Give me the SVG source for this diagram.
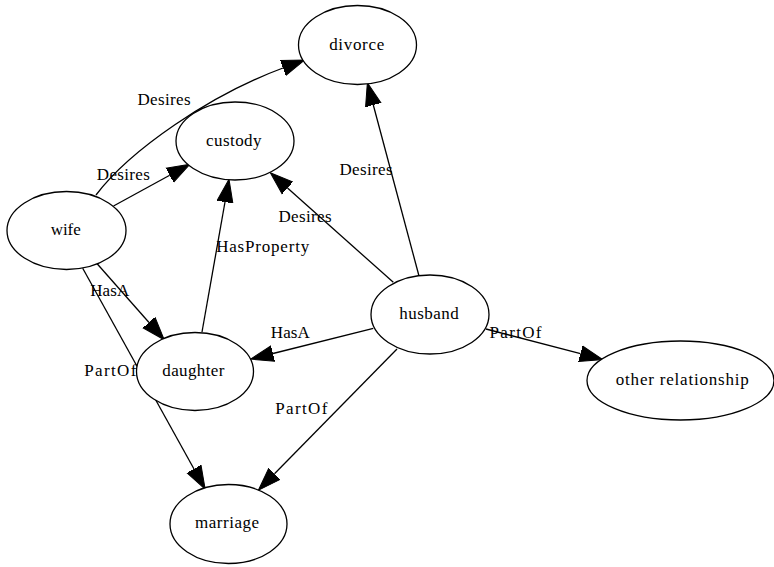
<svg xmlns="http://www.w3.org/2000/svg" width="774" height="567" viewBox="0 0 774 567">
<style>
.n ellipse{fill:#fff;stroke:#000;stroke-width:1.3}
text{font-family:"Liberation Serif","Times New Roman",serif;font-size:17px;fill:#000;text-anchor:middle}
.e path,.e line{fill:none;stroke:#000;stroke-width:1.3;marker-end:url(#ah)}
</style>
<defs>
<marker id="ah" viewBox="0 0 24 18" markerWidth="24" markerHeight="18" refX="0" refY="9" orient="auto" markerUnits="userSpaceOnUse">
<path d="M0,1 L23,9 L0,17 z" fill="#000" stroke="#000" stroke-width="1"/>
</marker>
</defs>
<rect width="774" height="567" fill="#fff"/>
<g id="edges" class="e">
<path d="M96,195 C130,150 210,95 283,68"/>
<line x1="113.5" y1="206" x2="169.7" y2="175.3"/>
<line x1="202" y1="332" x2="225" y2="202"/>
<line x1="393.3" y1="282.3" x2="287.5" y2="188"/>
<line x1="419" y1="276" x2="373.3" y2="105"/>
<line x1="96.7" y1="263.3" x2="149" y2="322.5"/>
<line x1="82.7" y1="268.3" x2="194" y2="469"/>
<line x1="373.3" y1="328.3" x2="273" y2="353.5"/>
<line x1="397" y1="349" x2="274.5" y2="473.8"/>
<line x1="486" y1="329" x2="580.5" y2="353.7"/>
<g id="edge-labels">
<text x="164" y="105" textLength="53">Desires</text>
<text x="123.3" y="180" textLength="53">Desires</text>
<text x="262.7" y="251.5" textLength="93">HasProperty</text>
<text x="305" y="221.5" textLength="53">Desires</text>
<text x="366" y="175" textLength="53">Desires</text>
<text x="109.7" y="295.5" textLength="39">HasA</text>
<text x="110.3" y="376" textLength="52">PartOf</text>
<text x="290.3" y="337.5" textLength="39">HasA</text>
<text x="301.3" y="414" textLength="52">PartOf</text>
<text x="515.5" y="338.3" textLength="52">PartOf</text>
</g>
</g>
<g id="divorce" class="n"><ellipse cx="357.5" cy="45" rx="59" ry="39.5"/><text x="356.7" y="50" textLength="55">divorce</text></g>
<g id="custody" class="n"><ellipse cx="235" cy="141" rx="59" ry="39"/><text x="233.8" y="145.7" textLength="55.5">custody</text></g>
<g id="wife" class="n"><ellipse cx="66.5" cy="230.5" rx="59.5" ry="39"/><text x="65.7" y="235" textLength="30">wife</text></g>
<g id="daughter" class="n"><ellipse cx="195" cy="371.5" rx="58.5" ry="39"/><text x="193.3" y="376" textLength="62">daughter</text></g>
<g id="marriage" class="n"><ellipse cx="228.5" cy="524" rx="58.5" ry="39.5"/><text x="227" y="528.3" textLength="64">marriage</text></g>
<g id="husband" class="n"><ellipse cx="430" cy="314.5" rx="59" ry="39.5"/><text x="429" y="319" textLength="59.7">husband</text></g>
<g id="other_relationship" class="n"><ellipse cx="680.5" cy="380.5" rx="93.5" ry="39.5"/><text x="682.3" y="385" textLength="133">other relationship</text></g>
</svg>
